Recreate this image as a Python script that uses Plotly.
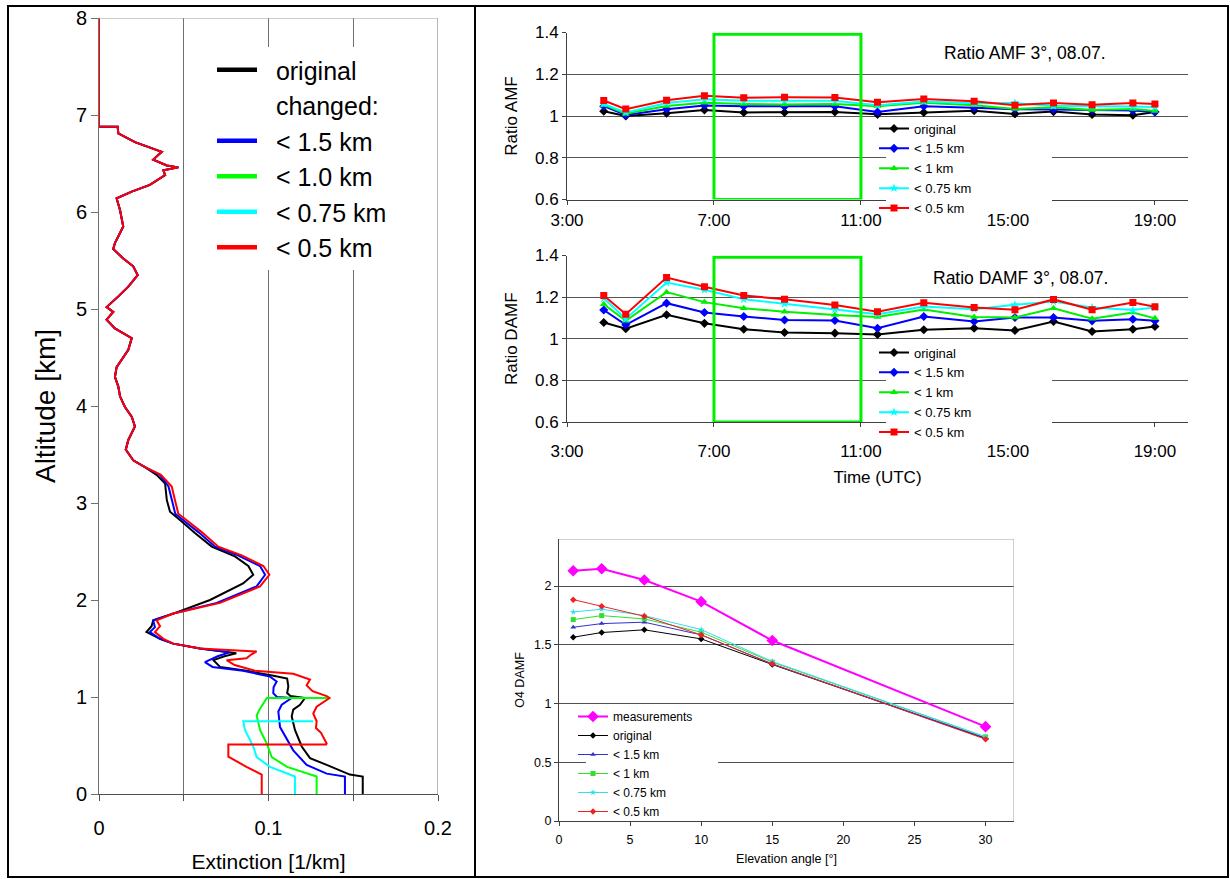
import plotly.graph_objects as go

W, H = 1230, 879
def px(x):
    return x / W
def py(y):
    return 1 - y / H

FONT = "Liberation Sans, Arial, sans-serif"

# ---------------- Left panel: extinction profiles ----------------
upper_alt = [8.0, 6.88, 6.88, 6.81, 6.72, 6.66, 6.62, 6.54, 6.48, 6.46, 6.43, 6.38, 6.28, 6.21, 6.14,
             6.02, 5.85, 5.68, 5.62, 5.52, 5.44, 5.35, 5.23, 5.13, 5.02, 4.97, 4.89, 4.80, 4.73,
             4.70, 4.58, 4.47, 4.40, 4.30, 4.20, 4.10, 3.99, 3.89, 3.79, 3.65, 3.55, 3.44, 3.37]
upper_ext = [0.0, 0.0, 0.011, 0.0114, 0.0212, 0.030, 0.037, 0.032, 0.040, 0.0468, 0.038, 0.039, 0.030, 0.0193, 0.0104,
             0.0124, 0.0143, 0.0094, 0.0084, 0.0143, 0.0202, 0.0228, 0.0173, 0.0114, 0.0045, 0.0084, 0.0045, 0.0094, 0.0163,
             0.0193, 0.0173, 0.0134, 0.0104, 0.0094, 0.0114, 0.0124, 0.0153, 0.0193, 0.0212, 0.0173, 0.0158, 0.0202, 0.0271]

black_alt = [3.29, 3.20, 3.03, 2.91, 2.81, 2.69, 2.55, 2.45, 2.35, 2.26, 2.17, 2.00, 1.86, 1.79, 1.73, 1.67,
             1.60, 1.55, 1.50, 1.45, 1.42, 1.38, 1.31, 1.27, 1.22, 1.19, 1.11, 1.04, 1.01, 0.99, 0.92,
             0.87, 0.80, 0.66, 0.49, 0.37, 0.30, 0.20, 0.18, 0.0]
black_ext = [0.034, 0.039, 0.040, 0.0419, 0.0488, 0.0566, 0.0665, 0.0802, 0.0881, 0.091, 0.085, 0.0655, 0.0438, 0.032, 0.031, 0.028,
             0.036, 0.0438, 0.0596, 0.081, 0.074, 0.0675, 0.0714, 0.087, 0.103, 0.111, 0.1117, 0.111, 0.113, 0.1215, 0.1186,
             0.1146, 0.1137, 0.1156, 0.1196, 0.1245, 0.1343, 0.148, 0.1556, 0.1556]

blue_alt = [3.29, 3.17, 3.03, 2.89, 2.81, 2.70, 2.55, 2.46, 2.35, 2.26, 2.14, 1.97, 1.86, 1.79, 1.72, 1.67,
            1.60, 1.55, 1.50, 1.46, 1.42, 1.36, 1.31, 1.27, 1.21, 1.16, 1.10, 1.04, 1.00, 0.99, 0.92,
            0.85, 0.69, 0.56, 0.45, 0.30, 0.21, 0.18, 0.0]
blue_ext = [0.036, 0.041, 0.043, 0.045, 0.0507, 0.0586, 0.0685, 0.082, 0.095, 0.098, 0.093, 0.0695, 0.0438, 0.032, 0.033, 0.030,
            0.036, 0.0438, 0.0596, 0.077, 0.070, 0.0625, 0.067, 0.085, 0.1009, 0.1048, 0.103, 0.1028, 0.105, 0.1137, 0.1078,
            0.1058, 0.1068, 0.111, 0.1146, 0.1225, 0.1343, 0.1451, 0.1451]

red_alt = [3.29, 3.17, 3.03, 2.89, 2.81, 2.70, 2.55, 2.46, 2.35, 2.26, 2.14, 1.97, 1.86, 1.79, 1.73, 1.67,
           1.60, 1.55, 1.50, 1.47, 1.44, 1.40, 1.38, 1.33, 1.27, 1.24, 1.18, 1.12, 1.06, 1.01, 0.99,
           0.90, 0.83, 0.75, 0.68, 0.63, 0.52, 0.51, 0.51, 0.385, 0.28, 0.20, 0.0]
red_ext = [0.0365, 0.0429, 0.0448, 0.0468, 0.0527, 0.0606, 0.0704, 0.0842, 0.097, 0.1005, 0.095, 0.0714, 0.0438, 0.034, 0.036, 0.033,
           0.038, 0.0438, 0.0596, 0.093, 0.090, 0.087, 0.0753, 0.080, 0.092, 0.1146, 0.1245, 0.1225, 0.126, 0.1343, 0.136,
           0.1284, 0.1264, 0.1284, 0.128, 0.131, 0.1343, 0.134, 0.0763, 0.0763, 0.087, 0.096, 0.096]

green_alt = [0.99, 0.99, 0.88, 0.81, 0.66, 0.52, 0.38, 0.28, 0.18, 0.0]
green_ext = [0.135, 0.099, 0.095, 0.093, 0.095, 0.099, 0.1019, 0.111, 0.1284, 0.1284]

cyan_alt = [0.75, 0.75, 0.66, 0.49, 0.38, 0.28, 0.18, 0.0]
cyan_ext = [0.1264, 0.0851, 0.0861, 0.091, 0.093, 0.1009, 0.1156, 0.1156]

profile_names = ["original", "< 1.5 km", "< 1.0 km", "< 0.75 km", "< 0.5 km"]
profile_colors = ["#000000", "#0000FF", "#00FF00", "#00FFFF", "#FF0000"]

# ---------------- Top right: ratio AMF / DAMF time series ----------------
times = [4.0, 4.6, 5.71, 6.74, 7.81, 8.92, 10.29, 11.45, 12.71, 14.08, 15.19, 16.24, 17.29, 18.4, 19.0]
time_ticks = [3, 7, 11, 15, 19]
time_labels = ["3:00", "7:00", "11:00", "15:00", "19:00"]

amf_original = [1.023, 1.0, 1.013, 1.029, 1.017, 1.017, 1.019, 1.008, 1.017, 1.025, 1.010, 1.021, 1.007, 1.004, 1.019]
amf_15 = [1.047, 1.005, 1.032, 1.05, 1.047, 1.046, 1.047, 1.019, 1.047, 1.039, 1.032, 1.031, 1.029, 1.026, 1.019]
amf_10 = [1.053, 1.011, 1.048, 1.064, 1.058, 1.055, 1.058, 1.047, 1.063, 1.052, 1.033, 1.042, 1.029, 1.034, 1.024]
amf_075 = [1.058, 1.017, 1.062, 1.08, 1.073, 1.074, 1.073, 1.052, 1.07, 1.061, 1.062, 1.049, 1.049, 1.046, 1.043]
amf_05 = [1.074, 1.033, 1.075, 1.097, 1.087, 1.09, 1.089, 1.066, 1.081, 1.071, 1.052, 1.062, 1.054, 1.062, 1.057]

damf_original = [1.078, 1.048, 1.115, 1.074, 1.046, 1.030, 1.027, 1.021, 1.043, 1.051, 1.040, 1.083, 1.035, 1.046, 1.059]
damf_15 = [1.138, 1.067, 1.171, 1.126, 1.107, 1.090, 1.088, 1.050, 1.107, 1.083, 1.102, 1.102, 1.086, 1.094, 1.086]
damf_10 = [1.166, 1.086, 1.224, 1.176, 1.147, 1.130, 1.114, 1.104, 1.141, 1.104, 1.102, 1.146, 1.096, 1.126, 1.098]
damf_075 = [1.195, 1.096, 1.270, 1.235, 1.190, 1.168, 1.141, 1.118, 1.155, 1.142, 1.163, 1.179, 1.150, 1.138, 1.150]
damf_05 = [1.208, 1.118, 1.294, 1.250, 1.208, 1.190, 1.162, 1.130, 1.173, 1.150, 1.139, 1.189, 1.139, 1.174, 1.154]

ratio_names = ["original", "< 1.5 km", "< 1 km", "< 0.75 km", "< 0.5 km"]
ratio_colors = ["#000000", "#0000FF", "#00EE00", "#00FFFF", "#FF0000"]
ratio_symbols = ["diamond", "diamond", "triangle-up", "star", "square"]
box_start, box_end = 7, 11

# ---------------- Bottom right: O4 DAMF vs elevation ----------------
elev = [1, 3, 6, 10, 15, 30]
o4_meas = [2.13, 2.147, 2.051, 1.867, 1.536, 0.803]
o4_original = [1.564, 1.604, 1.627, 1.55, 1.332, 0.702]
o4_15 = [1.649, 1.68, 1.692, 1.584, 1.335, 0.707]
o4_10 = [1.714, 1.748, 1.72, 1.607, 1.352, 0.716]
o4_075 = [1.779, 1.802, 1.748, 1.629, 1.358, 0.716]
o4_05 = [1.884, 1.827, 1.743, 1.584, 1.338, 0.696]
o4_names = ["measurements", "original", "< 1.5 km", "< 1 km", "< 0.75 km", "< 0.5 km"]
o4_colors = ["#FF00FF", "#000000", "#3333CC", "#33DD33", "#33DDEE", "#EE2222"]
o4_symbols = ["diamond", "diamond", "triangle-up", "square", "star", "diamond"]

fig = go.Figure()

# ---- left panel traces
left_x = [upper_ext + black_ext, upper_ext + blue_ext, green_ext, cyan_ext, upper_ext + red_ext]
left_y = [upper_alt + black_alt, upper_alt + blue_alt, green_alt, cyan_alt, upper_alt + red_alt]
for xs, ys, c in zip(left_x, left_y, profile_colors):
    fig.add_trace(go.Scatter(x=xs, y=ys, mode="lines", line=dict(color=c, width=2),
                             showlegend=False, xaxis="x", yaxis="y", hoverinfo="skip"))
# legend entries (thick samples)
legend_entries = [("original", "#000000")] + [("changed:", "rgba(0,0,0,0)")] + \
    list(zip(profile_names[1:], profile_colors[1:]))
for name, c in legend_entries:
    fig.add_trace(go.Scatter(x=[None], y=[None], mode="lines", line=dict(color=c, width=4.5),
                             name="\u00a0\u00a0" + name, legend="legend", xaxis="x", yaxis="y"))

# ---- AMF
for vals, n, c, s in zip([amf_original, amf_15, amf_10, amf_075, amf_05], ratio_names, ratio_colors, ratio_symbols):
    fig.add_trace(go.Scatter(x=times, y=vals, mode="lines+markers", name=n,
                             line=dict(color=c, width=2), marker=dict(symbol=s, size=7, color=c, line=dict(width=0)),
                             xaxis="x2", yaxis="y2", legend="legend2"))
# ---- DAMF
for vals, n, c, s in zip([damf_original, damf_15, damf_10, damf_075, damf_05], ratio_names, ratio_colors, ratio_symbols):
    fig.add_trace(go.Scatter(x=times, y=vals, mode="lines+markers", name=n,
                             line=dict(color=c, width=2), marker=dict(symbol=s, size=7, color=c, line=dict(width=0)),
                             xaxis="x3", yaxis="y3", legend="legend3"))
# ---- O4 DAMF
for i, (vals, n, c, s) in enumerate(zip([o4_meas, o4_original, o4_15, o4_10, o4_075, o4_05], o4_names, o4_colors, o4_symbols)):
    fig.add_trace(go.Scatter(x=elev, y=vals, mode="lines+markers", name=n,
                             line=dict(color=c, width=2 if i == 0 else 1),
                             marker=dict(symbol=s, size=9 if i == 0 else 5, color=c, line=dict(width=0)),
                             xaxis="x4", yaxis="y4", legend="legend4"))

tick_font_top = dict(family=FONT, size=17, color="black")
small_font = dict(family=FONT, size=12.5, color="black")
clear = "rgba(0,0,0,0)"

fig.update_layout(
    width=W, height=H, margin=dict(l=0, r=0, t=0, b=0, pad=0, autoexpand=False),
    paper_bgcolor="white", plot_bgcolor="white",
    font=dict(family=FONT, color="black"),
    xaxis=dict(domain=[px(99), px(438)], range=[0, 0.2], tickvals=[0, 0.05, 0.1, 0.15, 0.2],
               ticktext=["0", "", "0.1", "", "0.2"], showgrid=True, gridcolor="#707070", gridwidth=1,
               showline=True, linecolor="#505050", ticks="outside", ticklen=6, tickcolor="#505050",
               tickfont=dict(family=FONT, size=20), ticklabelstandoff=10, zeroline=False, anchor="y",
               automargin=False,
               title=dict(text="Extinction [1/km]", font=dict(family=FONT, size=21), standoff=16)),
    yaxis=dict(domain=[py(794), py(18)], range=[0, 8], dtick=1, showgrid=False, zeroline=False,
               showline=True, linecolor="#707070", ticks="outside", ticklen=7, tickcolor="#707070",
               tickfont=dict(family=FONT, size=20), anchor="x", automargin=False,
               title=dict(text="Altitude [km]", font=dict(family=FONT, size=28), standoff=12)),
    xaxis2=dict(domain=[px(567), px(1188)], range=[3, 19.9], tickvals=time_ticks, ticktext=time_labels,
                showgrid=False, zeroline=False, showline=True, linecolor="#404040", ticks="outside", ticklen=4,
                tickcolor="#404040", tickfont=tick_font_top, ticklabelstandoff=1, anchor="y2", automargin=False),
    yaxis2=dict(domain=[py(199.5), py(32.5)], range=[0.6, 1.4], dtick=0.2, showgrid=True, gridcolor="#555555",
                zeroline=False, showline=True, linecolor="#404040", ticks="outside", ticklen=4, tickcolor="#404040",
                tickfont=tick_font_top, anchor="x2", automargin=False,
                title=dict(text="Ratio AMF", font=dict(family=FONT, size=17), standoff=13)),
    xaxis3=dict(domain=[px(567), px(1188)], range=[3, 19.9], tickvals=time_ticks, ticktext=time_labels,
                showgrid=False, zeroline=False, showline=True, linecolor="#404040", ticks="outside", ticklen=4,
                tickcolor="#404040", tickfont=tick_font_top, ticklabelstandoff=10, anchor="y3", automargin=False,
                title=dict(text="Time (UTC)", font=dict(family=FONT, size=17), standoff=10)),
    yaxis3=dict(domain=[py(422), py(255.5)], range=[0.6, 1.4], dtick=0.2, showgrid=True, gridcolor="#555555",
                zeroline=False, showline=True, linecolor="#404040", ticks="outside", ticklen=4, tickcolor="#404040",
                tickfont=tick_font_top, anchor="x3", automargin=False,
                title=dict(text="Ratio DAMF", font=dict(family=FONT, size=17), standoff=13)),
    xaxis4=dict(domain=[px(559), px(1014)], range=[0, 32], dtick=5, showgrid=False, zeroline=False,
                showline=True, linecolor="#404040", ticks="outside", ticklen=4, tickcolor="#404040",
                tickfont=small_font, ticklabelstandoff=3, anchor="y4", automargin=False,
                title=dict(text="Elevation angle [°]", font=small_font, standoff=8)),
    yaxis4=dict(domain=[py(821), py(539)], range=[0, 2.4], dtick=0.5, showgrid=True, gridcolor="#505050",
                zeroline=False, showline=True, linecolor="#404040", ticks="outside", ticklen=4, tickcolor="#404040",
                tickfont=small_font, anchor="x4", automargin=False,
                title=dict(text="O4 DAMF", font=small_font, standoff=6)),
    legend=dict(x=px(212), y=py(47), xanchor="left", yanchor="top", bgcolor="white", borderwidth=0,
                font=dict(family=FONT, size=25), itemwidth=40, tracegroupgap=0),
    legend2=dict(x=px(874), y=py(113.5), xanchor="left", yanchor="top", bgcolor=clear, borderwidth=0,
                 font=dict(family=FONT, size=13), itemwidth=30, tracegroupgap=0),
    legend3=dict(x=px(874), y=py(337.5), xanchor="left", yanchor="top", bgcolor=clear, borderwidth=0,
                 font=dict(family=FONT, size=13), itemwidth=30, tracegroupgap=0),
    legend4=dict(x=px(573), y=py(702), xanchor="left", yanchor="top", bgcolor=clear, borderwidth=0,
                 font=dict(family=FONT, size=12), itemwidth=30, tracegroupgap=0),
    annotations=[
        dict(text="Ratio AMF 3°, 08.07.", x=px(1025), y=py(53), xref="paper", yref="paper",
             xanchor="center", yanchor="middle", showarrow=False, font=dict(family=FONT, size=17.5)),
        dict(text="Ratio DAMF 3°, 08.07.", x=px(1020), y=py(278), xref="paper", yref="paper",
             xanchor="center", yanchor="middle", showarrow=False, font=dict(family=FONT, size=17.5)),
    ],
)

shapes = []
# green highlight boxes
for xa, ya in [("x2", "y2"), ("x3", "y3")]:
    shapes.append(dict(type="rect", xref=xa, yref=ya, x0=box_start, x1=box_end, y0=0.6, y1=1.392,
                       line=dict(color="#00EE00", width=3), fillcolor=clear))
# light grey plot frame on left panel (top/right) and bottom-right chart
shapes.append(dict(type="line", xref="x", yref="y", x0=0, x1=0.2, y0=8, y1=8, line=dict(color="#A0A0A0", width=1)))
shapes.append(dict(type="line", xref="x", yref="y", x0=0.2, x1=0.2, y0=0, y1=8, line=dict(color="#A0A0A0", width=1.5)))
shapes.append(dict(type="line", xref="x4", yref="y4", x0=0, x1=32, y0=2.4, y1=2.4, line=dict(color="#A0A0A0", width=1)))
shapes.append(dict(type="line", xref="x4", yref="y4", x0=32, x1=32, y0=0, y1=2.4, line=dict(color="#A0A0A0", width=1)))
# white legend boxes (the legends themselves are drawn on top)
for (x0, y0, x1, y1) in [(886, 118, 1052, 211), (886, 342, 1052, 434), (586, 705, 718, 810)]:
    shapes.append(dict(type="rect", xref="paper", yref="paper", x0=px(x0), x1=px(x1), y0=py(y1), y1=py(y0),
                       line=dict(width=0), fillcolor="white", layer="above"))
# black outer frame of the figure table
shapes.append(dict(type="rect", xref="paper", yref="paper", x0=px(8), x1=px(1228), y0=py(877), y1=py(6),
                   line=dict(color="black", width=2), fillcolor=clear))
shapes.append(dict(type="line", xref="paper", yref="paper", x0=px(475), x1=px(475), y0=py(877), y1=py(6),
                   line=dict(color="black", width=2)))
fig.update_layout(shapes=shapes)

fig.write_html("out.html", post_script="document.body.style.margin='0px';document.body.style.overflow='hidden';")
